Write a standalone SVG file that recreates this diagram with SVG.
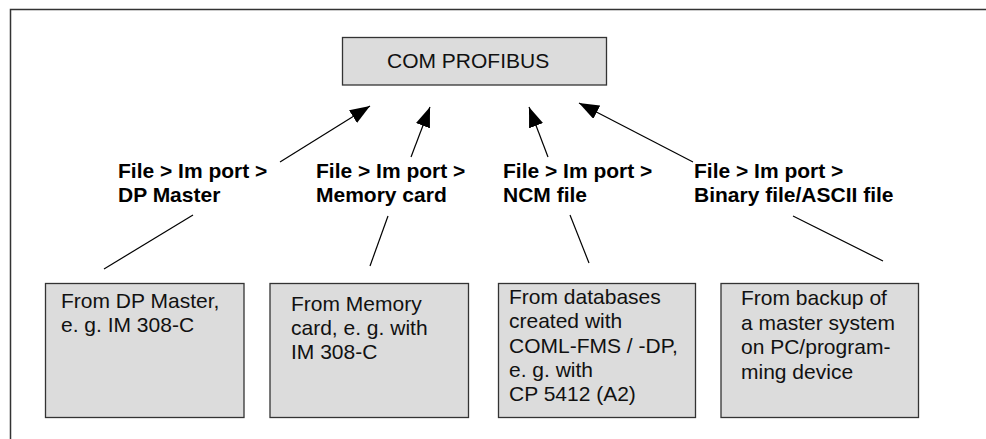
<svg xmlns="http://www.w3.org/2000/svg" width="986" height="439" viewBox="0 0 986 439">
<style>
  .frame{stroke:#333;stroke-width:1.5;fill:none}
  .box{fill:#dcdcdc;stroke:#333;stroke-width:1.3}
  .title{font-family:"Liberation Sans",Arial,sans-serif;font-size:21px;fill:#111}
  .lbl{font-family:"Liberation Sans",Arial,sans-serif;font-size:21px;font-weight:bold;fill:#000}
  .txt{font-family:"Liberation Sans",Arial,sans-serif;font-size:21px;fill:#111}
  .conn line{stroke:#000;stroke-width:1.2}
  .arrow{marker-end:url(#ah)}
</style>
<defs>
  <marker id="ah" markerUnits="userSpaceOnUse" markerWidth="21" markerHeight="15" refX="20" refY="7.5" orient="auto">
    <path d="M0,0 L20,7.5 L0,15 z" fill="#000"/>
  </marker>
</defs>
<rect width="986" height="439" fill="#fff"/>
<path class="frame" d="M10.5,439 L10.5,9.5 L986,9.5"/>

<g id="com-profibus">
  <rect class="box" x="342.5" y="37.5" width="264" height="47.5"/>
  <text class="title" x="387" y="68">COM PROFIBUS</text>
</g>

<g id="label-dp-master">
  <text class="lbl" x="118" y="178"><tspan x="118">File &gt; Im port &gt;</tspan><tspan x="118" y="202">DP Master</tspan></text>
</g>
<g id="label-memory-card">
  <text class="lbl" x="316" y="178"><tspan x="316">File &gt; Im port &gt;</tspan><tspan x="316" y="202">Memory card</tspan></text>
</g>
<g id="label-ncm-file">
  <text class="lbl" x="503" y="178"><tspan x="503">File &gt; Im port &gt;</tspan><tspan x="503" y="202">NCM file</tspan></text>
</g>
<g id="label-binary-file">
  <text class="lbl" x="694" y="178"><tspan x="694">File &gt; Im port &gt;</tspan><tspan x="694" y="202">Binary file/ASCII file</tspan></text>
</g>

<g id="box-dp-master">
  <rect class="box" x="45.5" y="283.5" width="198.5" height="134"/>
  <text class="txt"><tspan x="61" y="307.5">From DP Master,</tspan><tspan x="61" y="332">e. g. IM 308-C</tspan></text>
</g>
<g id="box-memory-card">
  <rect class="box" x="270" y="283.5" width="198.5" height="134"/>
  <text class="txt"><tspan x="291" y="310.5">From Memory</tspan><tspan x="291" y="335">card, e. g. with</tspan><tspan x="291" y="359">IM 308-C</tspan></text>
</g>
<g id="box-databases">
  <rect class="box" x="498.5" y="283.5" width="197" height="134"/>
  <text class="txt"><tspan x="509" y="304">From databases</tspan><tspan x="509" y="328.2">created with</tspan><tspan x="509" y="352.5">COML-FMS / -DP,</tspan><tspan x="509" y="376.7">e. g. with</tspan><tspan x="509" y="401">CP 5412 (A2)</tspan></text>
</g>
<g id="box-backup">
  <rect class="box" x="721" y="283.5" width="197.5" height="134"/>
  <text class="txt"><tspan x="741" y="305">From backup of</tspan><tspan x="741" y="330">a master system</tspan><tspan x="741" y="354">on PC/program-</tspan><tspan x="741" y="378.5">ming device</tspan></text>
</g>

<g id="connectors" class="conn">
  <line class="arrow" x1="280" y1="162" x2="370" y2="106"/>
  <line class="arrow" x1="411" y1="157" x2="430" y2="107"/>
  <line class="arrow" x1="548" y1="157" x2="529" y2="107"/>
  <line class="arrow" x1="693" y1="162" x2="579" y2="103"/>
  <line x1="193" y1="215" x2="104" y2="269"/>
  <line x1="388" y1="216" x2="370" y2="266"/>
  <line x1="570" y1="215" x2="589" y2="263"/>
  <line x1="793" y1="216" x2="883" y2="261"/>
</g>
</svg>
